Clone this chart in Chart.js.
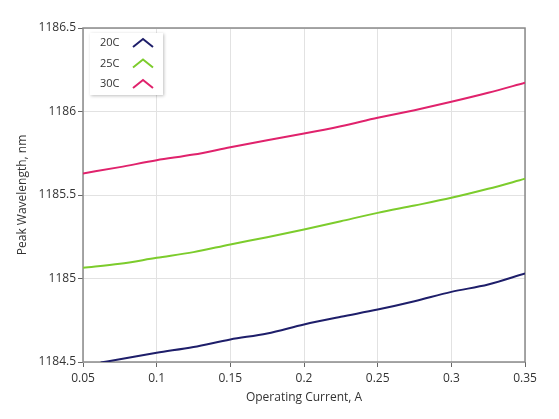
<!DOCTYPE html>
<html>
<head>
<meta charset="utf-8">
<script src="https://cdn.jsdelivr.net/npm/chart.js@4/dist/chart.umd.min.js"></script>
<style>
  html, body { margin: 0; padding: 0; background: #fff; }
  #wrap { width: 559px; height: 419px; }
</style>
</head>
<body>
<div id="wrap"><canvas id="myChart" width="559" height="419"></canvas></div>
<script>
// data
const current = [0.05, 0.075, 0.1, 0.125, 0.15, 0.175, 0.2, 0.225, 0.25, 0.275, 0.3, 0.325, 0.35];
const current20 = [0.062, 0.075, 0.1, 0.125, 0.15, 0.175, 0.2, 0.225, 0.25, 0.275, 0.3, 0.325, 0.35];
const peak20 = [1184.497, 1184.516, 1184.555, 1184.59, 1184.635, 1184.671, 1184.725, 1184.771, 1184.814, 1184.864, 1184.92, 1184.964, 1185.03];
const peak25 = [1185.064, 1185.088, 1185.124, 1185.158, 1185.204, 1185.247, 1185.293, 1185.343, 1185.393, 1185.437, 1185.483, 1185.537, 1185.597];
const peak30 = [1185.629, 1185.667, 1185.708, 1185.742, 1185.786, 1185.828, 1185.868, 1185.912, 1185.962, 1186.008, 1186.058, 1186.112, 1186.172];
const seriesNames = ["20C", "25C", "30C"];
const seriesColors = ["#1e1e6a", "#7ccc2c", "#e0226c"];

const xTicks = [0.05, 0.1, 0.15, 0.2, 0.25, 0.3, 0.35];
const yTicks = [1184.5, 1185, 1185.5, 1186, 1186.5];

const FONT = "'Open Sans', 'Noto Sans', sans-serif";

const toPoints = (xs, ys) => xs.map((x, i) => ({ x: x, y: ys[i] }));

// box round the plot and the legend in the top left corner
const frame = {
  id: "frame",
  beforeDatasetsDraw(chart) {
    const a = chart.chartArea;
    const ctx = chart.ctx;
    ctx.save();
    ctx.strokeStyle = "#8a8a8a";
    ctx.lineWidth = 1.5;
    ctx.strokeRect(a.left, a.top, a.right - a.left, a.bottom - a.top);
    ctx.restore();
  },
  afterDraw(chart) {
    const a = chart.chartArea;
    const ctx = chart.ctx;
    const bx = a.left + 7, by = a.top + 5, bw = 73, bh = 62;
    ctx.save();
    ctx.shadowColor = "rgba(0,0,0,0.25)";
    ctx.shadowBlur = 3;
    ctx.shadowOffsetX = 1;
    ctx.shadowOffsetY = 1;
    ctx.fillStyle = "#fff";
    ctx.fillRect(bx, by, bw, bh);
    ctx.restore();

    ctx.save();
    ctx.font = "11px " + FONT;
    ctx.textBaseline = "middle";
    chart.data.datasets.forEach((ds, i) => {
      const cy = by + 10 + i * 20.5;
      ctx.fillStyle = "#333";
      ctx.textAlign = "left";
      ctx.fillText(ds.label, bx + 10, cy);
      ctx.strokeStyle = ds.borderColor;
      ctx.lineWidth = 2;
      ctx.beginPath();
      ctx.moveTo(bx + 43, cy + 4);
      ctx.lineTo(bx + 53, cy - 4);
      ctx.lineTo(bx + 63, cy + 4);
      ctx.stroke();
    });
    ctx.restore();
  }
};

const ctx = document.getElementById("myChart").getContext("2d");

new Chart(ctx, {
  type: "line",
  data: {
    datasets: [
      { label: seriesNames[0], data: toPoints(current20, peak20), borderColor: seriesColors[0] },
      { label: seriesNames[1], data: toPoints(current, peak25), borderColor: seriesColors[1] },
      { label: seriesNames[2], data: toPoints(current, peak30), borderColor: seriesColors[2] },
    ],
  },
  options: {
    responsive: false,
    animation: false,
    layout: { padding: { left: 0, top: 28, right: 34, bottom: 0 } },
    elements: {
      point: { radius: 0 },
      line: { borderWidth: 2, tension: 0.3, cubicInterpolationMode: "monotone" },
    },
    plugins: { legend: { display: false }, tooltip: { enabled: false } },
    scales: {
      x: {
        type: "linear",
        min: 0.05,
        max: 0.35,
        afterFit(scale) { scale.height = 57; },
        afterBuildTicks(scale) { scale.ticks = xTicks.map(v => ({ value: v })); },
        border: { display: false },
        grid: { color: "#e2e2e2", tickColor: "#666", tickLength: 5, lineWidth: 1 },
        ticks: {
          padding: 4,
          color: "#333",
          font: { family: FONT, size: 12 },
          maxRotation: 0,
          callback: v => String(Math.round(v * 100) / 100),
        },
        title: {
          display: true,
          text: "Operating Current, A",
          color: "#333",
          font: { family: FONT, size: 12 },
          padding: { top: 0, bottom: 14 },
        },
      },
      y: {
        min: 1184.5,
        max: 1186.5,
        afterFit(scale) { scale.width = 83; },
        afterBuildTicks(scale) { scale.ticks = yTicks.map(v => ({ value: v })); },
        border: { display: false },
        grid: { color: "#e2e2e2", tickColor: "#666", tickLength: 5, lineWidth: 1 },
        ticks: {
          padding: 2,
          color: "#333",
          font: { family: FONT, size: 12 },
          callback: v => String(v),
        },
        title: {
          display: true,
          text: "Peak Wavelength, nm",
          color: "#333",
          font: { family: FONT, size: 12 },
          padding: { top: 15, bottom: 0 },
        },
      },
    },
  },
  plugins: [frame],
});
</script>
</body>
</html>
